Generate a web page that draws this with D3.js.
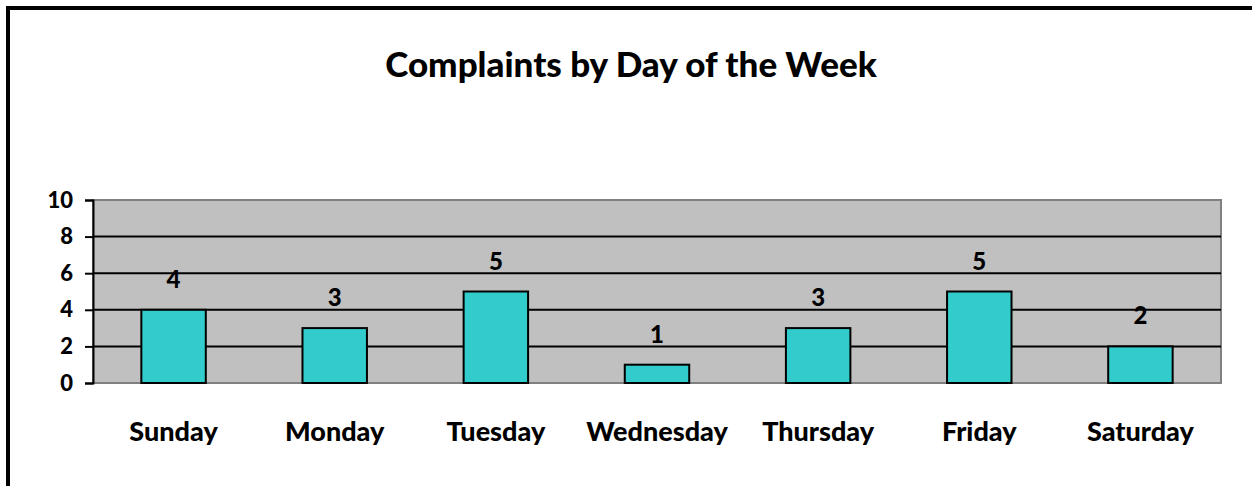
<!DOCTYPE html>
<html>
<head>
<meta charset="utf-8">
<script src="https://cdn.jsdelivr.net/npm/d3@7"></script>
<style>
  body { margin: 0; background: #fff; }
  svg { display: block; }
</style>
</head>
<body>
<div id="chart"></div>
<script>
// chart data
const days = ['Sunday', 'Monday', 'Tuesday', 'Wednesday', 'Thursday', 'Friday', 'Saturday'];
const complaints = [4, 3, 5, 1, 3, 5, 2];
const yTicks = [0, 2, 4, 6, 8, 10];
const chartTitle = 'Complaints by Day of the Week';

const W = 1252, H = 486;
const font = 'Lato, "Open Sans", sans-serif';
const plot = { left: 93, right: 1221, top: 200, bottom: 383 };

const svg = d3.select('#chart').append('svg')
  .attr('width', W)
  .attr('height', H);

// outer frame (right/bottom edges fall outside the picture)
svg.append('rect')
  .attr('x', 8).attr('y', 8)
  .attr('width', W + 20).attr('height', H + 20)
  .attr('fill', 'none')
  .attr('stroke', '#000')
  .attr('stroke-width', 4);

svg.append('text')
  .attr('x', 631).attr('y', 77)
  .attr('text-anchor', 'middle')
  .attr('font-family', font)
  .attr('font-weight', 900)
  .attr('font-size', '35px')
  .text(chartTitle);

const x = d3.scaleBand()
  .domain(days)
  .range([plot.left, plot.right]);

const y = d3.scaleLinear()
  .domain([0, 10])
  .range([plot.bottom, plot.top]);

// plot area
svg.append('rect')
  .attr('x', plot.left).attr('y', plot.top)
  .attr('width', plot.right - plot.left)
  .attr('height', plot.bottom - plot.top)
  .attr('fill', '#c0c0c0')
  .attr('stroke', '#808080')
  .attr('stroke-width', 2);

// gridlines
svg.append('g')
  .selectAll('line')
  .data(yTicks.filter(t => t > 0 && t < 10))
  .join('line')
  .attr('x1', plot.left).attr('x2', plot.right)
  .attr('y1', d => y(d)).attr('y2', d => y(d))
  .attr('stroke', '#000')
  .attr('stroke-width', 2);

// y axis
const yAxis = svg.append('g')
  .attr('transform', `translate(${plot.left},0)`)
  .call(d3.axisLeft(y).tickValues(yTicks).tickSize(8).tickPadding(12));
yAxis.select('.domain').attr('stroke', '#000').attr('stroke-width', 2);
yAxis.selectAll('.tick line').attr('stroke', '#000').attr('stroke-width', 2);
yAxis.selectAll('.tick text')
  .attr('font-family', font)
  .attr('font-weight', 900)
  .attr('font-size', '22px')
  .attr('fill', '#000');

// bars
const barW = x.bandwidth() * 0.4;
svg.append('g')
  .selectAll('rect')
  .data(days)
  .join('rect')
  .attr('x', d => x(d) + (x.bandwidth() - barW) / 2)
  .attr('y', (d, i) => y(complaints[i]))
  .attr('width', barW)
  .attr('height', (d, i) => y(0) - y(complaints[i]))
  .attr('fill', '#33cccc')
  .attr('stroke', '#000')
  .attr('stroke-width', 2);

// value labels
svg.append('g')
  .selectAll('text')
  .data(days)
  .join('text')
  .attr('x', d => x(d) + x.bandwidth() / 2)
  .attr('y', (d, i) => y(complaints[i]) - 22)
  .attr('text-anchor', 'middle')
  .attr('font-family', font)
  .attr('font-weight', 900)
  .attr('font-size', '24px')
  .text((d, i) => complaints[i]);

// category labels
svg.append('g')
  .selectAll('text')
  .data(days)
  .join('text')
  .attr('x', d => x(d) + x.bandwidth() / 2)
  .attr('y', 441)
  .attr('text-anchor', 'middle')
  .attr('font-family', font)
  .attr('font-weight', 900)
  .attr('font-size', '27px')
  .text(d => d);
</script>
</body>
</html>
